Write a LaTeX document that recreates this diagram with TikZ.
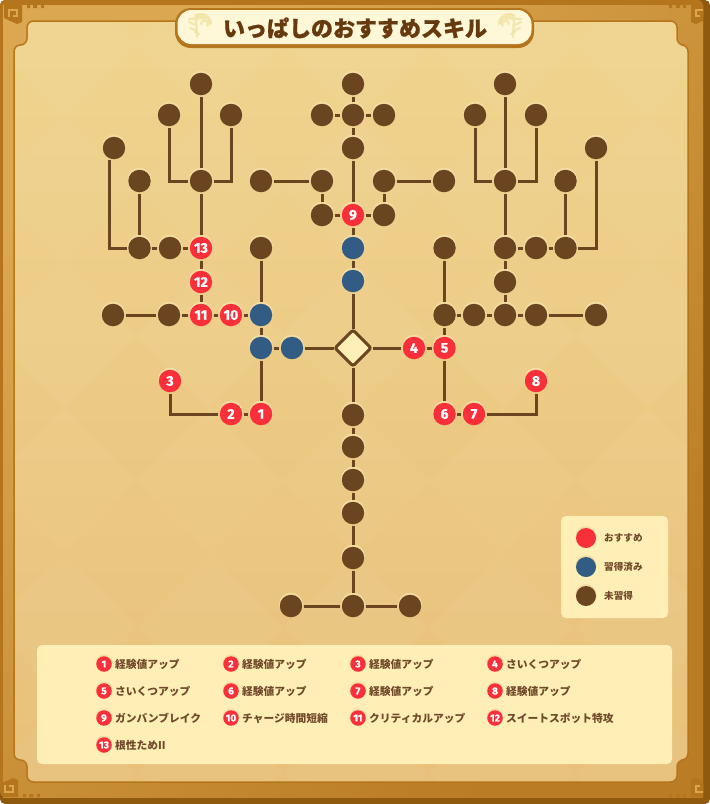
\documentclass[tikz,border=0pt]{standalone}
\usepackage{fontspec}
\setmainfont{Noto Sans CJK JP}
\newfontfamily\numfont{Fira Sans}[BoldFeatures={FakeBold=1.2}]
\newfontfamily\titlefont{Noto Sans CJK JP}[BoldFeatures={FakeBold=0.9}]
\usetikzlibrary{shapes.geometric,shadows}
\definecolor{framedark}{HTML}{8F5A0E}
\definecolor{frameedge}{HTML}{B5751D}
\definecolor{framelight}{HTML}{DBA750}
\definecolor{framelow}{HTML}{BA7C24}
\definecolor{panelhigh}{HTML}{F0D48E}
\definecolor{panellow}{HTML}{E8C07A}
\definecolor{boxfill}{HTML}{FFEFB6}
\definecolor{pillfill}{HTML}{FFF8D8}
\definecolor{swirl}{HTML}{F3E6AC}
\definecolor{halo}{HTML}{F4DDA2}
\definecolor{redskill}{HTML}{F9303A}
\definecolor{blueskill}{HTML}{335C85}
\definecolor{brownskill}{HTML}{6B4420}
\definecolor{inktext}{HTML}{70492A}
\definecolor{titleink}{HTML}{67390F}
\tikzset{
  skill/.style={circle,inner sep=0pt,minimum size=22.5,outer sep=1.5,
    general shadow={fill=halo,shadow yshift=-1.2,shadow scale=1.07}},
  todo/.style={skill,fill=brownskill},
  done/.style={skill,fill=blueskill},
  pick/.style={skill,fill=redskill,text=white,font=\numfont\bfseries\fontsize{14}{14}\selectfont},
  badge/.style={pick,minimum size=15.5,outer sep=0,font=\numfont\bfseries\fontsize{10}{10}\selectfont},
  link/.style={draw=brownskill,line width=3},
  entry/.style={anchor=west,inner sep=0pt,text=inktext,font=\bfseries\fontsize{10.75}{12}\selectfont},
  legendtext/.style={anchor=west,inner sep=0pt,text=inktext,font=\bfseries\fontsize{9.6}{10}\selectfont},
  infobox/.style={fill=boxfill,rounded corners=5},
  ornament/.style={draw=swirl,line width=2.2,line cap=round}
}
\begin{document}
\begin{tikzpicture}[x=1pt,y=-1pt]
  \useasboundingbox (0,0) rectangle (710,804);
  % frame
  \fill[framedark,rounded corners=5] (0,0) rectangle (710,804);
  \fill[frameedge,rounded corners=5] (0,0) rectangle (703,797);
  \shade[left color=framelight,right color=framelow,shading angle=45] (3,5) rectangle (703,797);
  \begin{scope}
    \clip (3,5) rectangle (703,797);
    \foreach \sx/\sy/\ox/\oy in {1/1/0/0,-1/1/713/0,1/-1/-4/802,-1/-1/713/802}{
      \begin{scope}[shift={(\ox,\oy)},xscale=\sx,yscale=\sy]
        \fill[frameedge] (4,5) -- (22,5) -- (22,22) -- (17,24) -- (4,18) -- cycle;
        \draw[framelight,line width=1.6] (9,17) -- (9,10) -- (17,10) -- (17,16) -- (13,16);
        \fill[frameedge] (27,5) rectangle (30,8) (33,5) rectangle (37,8) (41,5) rectangle (44,8);
      \end{scope}
    }
  \end{scope}
  % panel
  \path[rounded corners=6.5,top color=panelhigh,bottom color=panellow,draw=frameedge,line width=1.5]
    (27,45) -- (27,21) -- (677,21) -- (677,45) -- (688,45) -- (688,760) -- (677,760) -- (677,782)
    -- (27,782) -- (27,760) -- (14,760) -- (14,45) -- cycle;
  \begin{scope}
    \clip[rounded corners=6.5] (27,45) -- (27,22) -- (677,22) -- (677,45) -- (687,45) -- (687,760) -- (677,760) -- (677,781)
      -- (27,781) -- (27,760) -- (15,760) -- (15,45) -- cycle;
    \foreach \i in {-1,1,3,5,7,9}{
      \foreach \j in {0,2,4,6,8,10}{
        \fill[white,opacity=0.04,shift={(137+73*\i,43+73*\j)}] (-73,0) -- (0,-73) -- (73,0) -- (0,73) -- cycle;
      }
    }
  \end{scope}
  % title
  \node[fill=frameedge,rounded corners=16,minimum width=359,minimum height=40,inner sep=0pt] (titleback) at (354.5,28) {};
  \node[fill=pillfill,rounded corners=14,minimum width=354,minimum height=34,inner sep=0pt] (titlebar) at (354.5,27) {};
  \foreach \cx/\sx in {200/1,510/-1}{
    \begin{scope}[shift={(\cx,27)},xscale=\sx]
      \draw[ornament] (1,-3) arc (180:400:3.5) arc (40:-200:6.5) (11,-3) arc (0:-120:10) -- (-3,10) (6,-9) -- (-11,-8)
        (-5,-2) -- (-11,-5) (-5,3) -- (-10,1) (-1,7) -- (-5,5);
    \end{scope}
  }
  \node[text=titleink,font=\titlefont\bfseries\fontsize{22}{24}\selectfont,inner sep=0pt] (titletext) at (355,28) {いっぱしのおすすめスキル};
  % skills
  \foreach \name/\x/\y in {a1/201/84,a2/169/115,a3/231/115,a4/114/148,a5/139.5/181,a6/201/181,a7/139.5/248,a8/170/248,
    a9/113/315,a10/169/315,a11/261/248,
    c1/322/215,c2/384/215,c3/322/181,c4/384/181,c5/261/181,c6/444/181,c7/353/148,c8/353/115,c9/322/115,c10/384/115,c11/353/84,
    d1/353/415,d2/353/447,d3/353/480,d4/353/513,d5/353/558,d6/353/606,d7/291/606,d8/410/606,
    e1/444.5/315,e2/444.5/248,e3/474/315,e4/505/315,e5/536/315,e6/596/315,e7/505/282,e8/505/248,e9/536/248,e10/565.5/248,
    e11/565.5/181,e12/596/148,e13/505/181,e14/475/115,e15/536/115,e16/505/84}{
    \node[todo] (\name) at (\x,\y) {};
  }
  \foreach \name/\x/\y in {b1/261/315,b2/261/348,b3/292/348,b4/353/281,b5/353/248}{
    \node[done] (\name) at (\x,\y) {};
  }
  \foreach \n/\x/\y in {1/261/414,2/231/414,3/170/381,4/414/348,5/444.5/348,6/444.5/414,7/474/414,8/536/381,9/353/215,
    10/231/315,11/201/315,12/201/282,13/201/248}{
    \node[pick] (r\n) at (\x,\y) {\n};
  }
  \node[diamond,draw=brownskill,fill=boxfill,line width=3,rounded corners=2.5,minimum size=37,inner sep=0pt,outer sep=1,
    general shadow={fill=halo,shadow yshift=-1.2,shadow scale=1.05}] (start) at (353,348) {};
  % links
  \foreach \a/\b in {a1/a6,a6/r13,a5/a7,a7/a8,a8/r13,r13/r12,r12/r11,a9/a10,a10/r11,r11/r10,r10/b1,a11/b1,b1/b2,b2/b3,b3/start,b2/r1,r1/r2,
    start/b4,b4/b5,b5/r9,r9/c7,c7/c8,c8/c11,c8/c9,c8/c10,r9/c1,r9/c2,c1/c3,c2/c4,c3/c5,c4/c6,
    start/d1,d1/d2,d2/d3,d3/d4,d4/d5,d5/d6,d6/d7,d6/d8,
    start/r4,r4/r5,r5/e1,e1/e2,e1/e3,e3/e4,e4/e5,e5/e6,e4/e7,e7/e8,e8/e9,e9/e10,e10/e11,e8/e13,e13/e16,r5/r6,r6/r7}{
    \draw[link] (\a) -- (\b);
  }
  \draw[link] (a2) |- (a6);
  \draw[link] (a3) |- (a6);
  \draw[link] (a4.-110) |- (a7);
  \draw[link] (r3) |- (r2);
  \draw[link] (e14) |- (e13);
  \draw[link] (e15) |- (e13);
  \draw[link] (e12) |- (e10);
  \draw[link] (r8) |- (r7);
  % legend
  \fill[infobox] (561,516) rectangle (668,618);
  \foreach \col/\txt/\y in {redskill/おすすめ/538,blueskill/習得済み/567,brownskill/未習得/596}{
    \node[skill,fill=\col,minimum size=20,outer sep=0] (key\y) at (586,\y) {};
    \node[legendtext] (keytext\y) at (604,\y) {\txt};
  }
  % list
  \fill[infobox] (37,645) rectangle (672,764);
  \foreach \n/\x/\y/\txt in {1/104/664/経験値アップ,2/231/664/経験値アップ,3/358/664/経験値アップ,4/495/664/さいくつアップ,
    5/104/691/さいくつアップ,6/231/691/経験値アップ,7/358/691/経験値アップ,8/495/691/経験値アップ,
    9/104/718/ガンバンブレイク,10/231/718/チャージ時間短縮,11/358/718/クリティカルアップ,12/495/718/スイートスポット特攻,
    13/104/745/根性ためII}{
    \node[badge] (num\n) at (\x,\y) {\n};
    \node[entry] (txt\n) at (\x+11,\y) {\txt};
  }
\end{tikzpicture}
\end{document}
